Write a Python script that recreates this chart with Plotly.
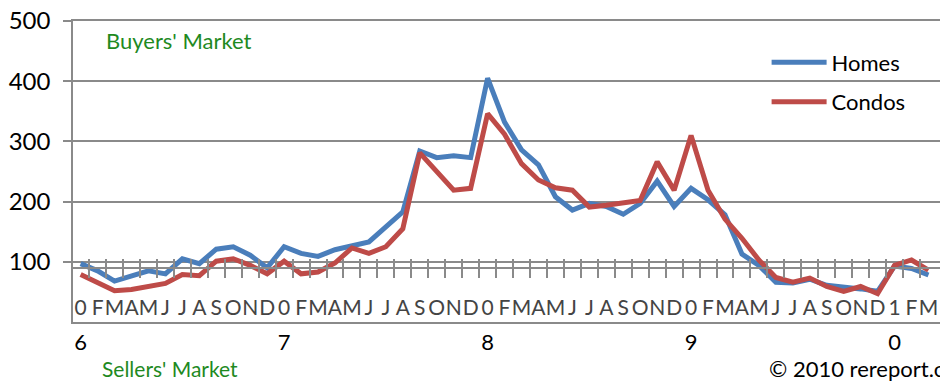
import plotly.graph_objects as go

month_labels = ["0", "F", "M", "A", "M", "J", "J", "A", "S", "O", "N", "D"] * 4 + ["1", "F", "M"]
year_labels = ["6", "7", "8", "9", "0"]
year_positions = [0, 12, 24, 36, 48]

homes = [97, 85, 68, 76, 85, 80, 105, 97, 121, 125, 111, 90,
         125, 114, 109, 120, 127, 133, 158, 183, 284, 273, 276, 273,
         405, 332, 286, 261, 208, 186, 197, 192, 179, 197, 234, 192,
         222, 203, 178, 113, 94, 66, 65, 71, 61, 59, 55, 51,
         93, 89, 78]
condos = [79, 65, 52, 54, 60, 64, 79, 77, 101, 105, 94, 80,
          101, 80, 83, 98, 123, 114, 125, 155, 281, 250, 219, 222,
          346, 312, 263, 236, 223, 219, 191, 194, 198, 202, 266, 219,
          310, 219, 171, 139, 103, 74, 66, 73, 59, 51, 59, 47,
          94, 103, 86]

idx = list(range(len(homes)))
boundaries = [i + 0.5 for i in idx[:-1]]

FONT = "Lato, Arial, sans-serif"
GRID = "#8a8a8a"
GREEN = "#1f8a1f"

fig = go.Figure()
fig.add_trace(go.Scatter(x=idx, y=homes, mode="lines", name="Homes",
                         line=dict(color="#4A7EBB", width=5), legendgroup="h"))
fig.add_trace(go.Scatter(x=idx, y=condos, mode="lines", name="Condos",
                         line=dict(color="#BE4B48", width=5), legendgroup="c"))

xr = [-0.45, 50.68]
fig.update_layout(
    template="none",
    width=940, height=381,
    margin=dict(l=73, r=0, t=21, b=59, autoexpand=False),
    paper_bgcolor="white", plot_bgcolor="white",
    font=dict(family=FONT, color="black"),
    showlegend=True,
    legend=dict(x=0.80, y=0.932, xanchor="left", yanchor="top",
                font=dict(size=22, family=FONT), tracegroupgap=8, itemwidth=55,
                bgcolor="rgba(0,0,0,0)", borderwidth=0),
    xaxis=dict(range=xr, tickmode="array", tickvals=year_positions, ticktext=year_labels,
               showgrid=False, zeroline=False, showline=True, mirror=True,
               linecolor=GRID, linewidth=1.5, ticks="", automargin=False, tickangle=0,
               tickfont=dict(size=22, family=FONT)),
    # axis crossing at 90 with crossing tick marks
    xaxis2=dict(range=xr, overlaying="x", anchor="free", position=0.18, side="bottom",
                tickmode="array", tickvals=boundaries, showticklabels=False,
                ticks="outside", ticklen=9, tickwidth=1.5, tickcolor=GRID, automargin=False,
                showline=True, linecolor=GRID, linewidth=1.5, showgrid=False, zeroline=False),
    xaxis3=dict(range=xr, overlaying="x", anchor="free", position=0.18, side="bottom",
                tickmode="array", tickvals=boundaries, showticklabels=False,
                ticks="inside", ticklen=9, tickwidth=1.5, tickcolor=GRID, automargin=False,
                showline=False, showgrid=False, zeroline=False),
    # month labels sitting just above the zero line
    xaxis4=dict(range=xr, overlaying="x", anchor="free", position=0.0, side="bottom",
                tickmode="array", tickvals=idx, ticktext=month_labels, tickangle=0,
                ticklabelposition="inside", ticks="", showline=False, showgrid=False,
                zeroline=False, automargin=False, tickfont=dict(size=21, family=FONT)),
    yaxis=dict(range=[0, 500], tickmode="array", tickvals=[0, 100, 200, 300, 400, 500],
               showgrid=True, gridcolor=GRID, gridwidth=1.5,
               showline=True, linecolor=GRID, linewidth=1.5, automargin=False,
               ticks="outside", ticklen=8, tickcolor=GRID, tickwidth=1.5,
               ticklabelstandoff=8,
               zeroline=False, tickfont=dict(size=24, family=FONT)),
)

# invisible traces to activate the overlay axes
for ax in ["x2", "x3", "x4"]:
    fig.add_trace(go.Scatter(x=[0], y=[None], xaxis=ax, yaxis="y", showlegend=False,
                             hoverinfo="skip", mode="lines"))

fig.add_annotation(text="Buyers' Market", xref="paper", yref="paper", x=0.0355, y=0.935,
                   xanchor="left", yanchor="middle", showarrow=False,
                   font=dict(size=22, color=GREEN, family=FONT))
fig.add_annotation(text="Sellers' Market", xref="paper", yref="paper", x=0.031, y=-0.155,
                   xanchor="left", yanchor="middle", showarrow=False,
                   font=dict(size=21, color=GREEN, family=FONT))
fig.add_annotation(text="© 2010 rereport.com", xref="paper", yref="paper", x=0.8005, y=-0.155,
                   xanchor="left", yanchor="middle", showarrow=False,
                   font=dict(size=22, color="black", family=FONT))

fig.write_html("out.html", config={"displayModeBar": False},
               post_script="document.body.style.margin='0';document.body.style.overflow='hidden';")
